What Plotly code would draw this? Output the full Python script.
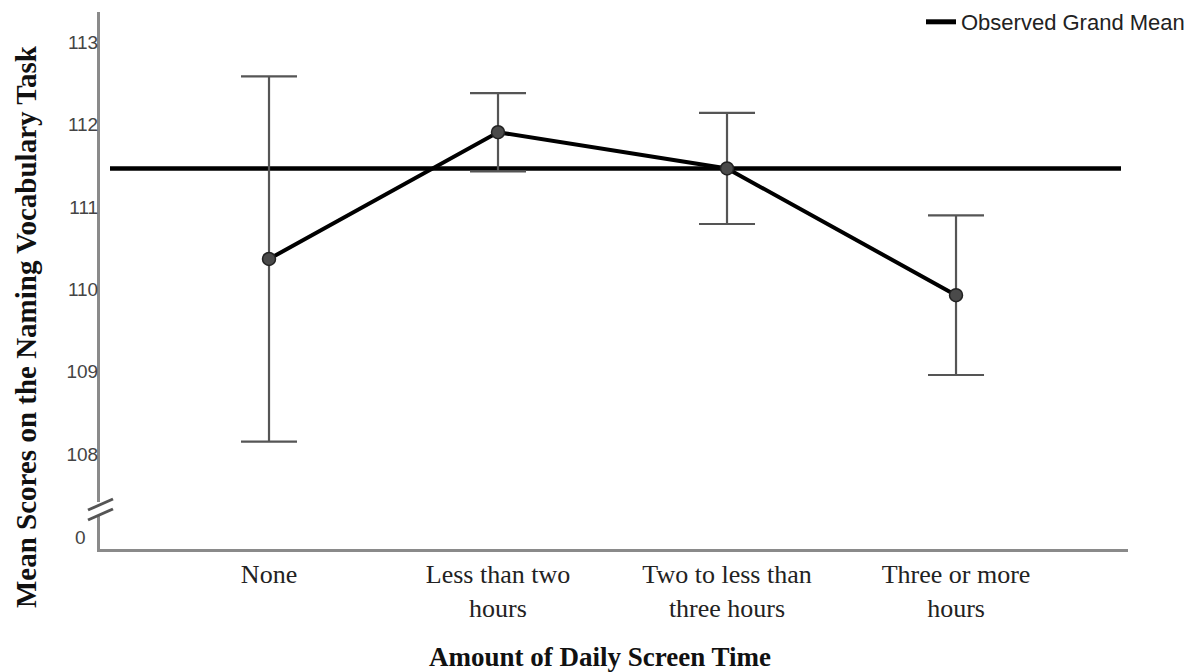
import plotly.graph_objects as go

# Group means with 95% CI half-widths
CATEGORIES = ["None", "Less than two hours", "Two to less than three hours", "Three or more hours"]
TICK_LABELS = ["None", "Less than two<br>hours", "Two to less than<br>three hours", "Three or more<br>hours"]
MEANS = [110.37, 111.91, 111.47, 109.93]
CI_HALF = [2.22, 0.475, 0.675, 0.97]
GRAND_MEAN = 111.47
Y_TICKS = [108, 109, 110, 111, 112, 113]
BROKEN_ZERO = 106.98  # position where the "0" of the broken axis is shown

W, H = 1201, 672
ML, MR, MT, MB = 100, 73, 12, 123
PW, PH = W - ML - MR, H - MT - MB


def px_x(p):
    return (p - ML) / PW


def px_y(p):
    return (H - MB - p) / PH


AXIS_GREY = "#8a8a8a"
BAR_GREY = "#555555"
SERIF = "Liberation Serif, Times New Roman, serif"
SANS = "Liberation Sans, Arial, sans-serif"

xs = list(range(len(CATEGORIES)))

fig = go.Figure()

fig.add_trace(go.Scatter(
    x=xs, y=MEANS, mode="lines+markers",
    line=dict(color="black", width=4),
    marker=dict(size=13, color="#4a4a4a", line=dict(color="#222222", width=1.5)),
    error_y=dict(type="data", array=CI_HALF, visible=True,
                 color=BAR_GREY, thickness=2.2, width=28),
    showlegend=False, hoverinfo="skip",
))

# Legend entry for the grand-mean reference line
fig.add_trace(go.Scatter(
    x=[None], y=[None], mode="lines", name="Observed Grand Mean",
    line=dict(color="black", width=5), showlegend=True,
))

shapes = [
    dict(type="line", xref="paper", yref="y",
         x0=px_x(110), x1=px_x(1121), y0=GRAND_MEAN, y1=GRAND_MEAN,
         line=dict(color="black", width=4.5), layer="below"),
    # gap in the y axis for the break
    dict(type="line", xref="paper", yref="paper",
         x0=0, x1=0, y0=px_y(516), y1=px_y(502),
         line=dict(color="white", width=6), layer="above"),
    dict(type="line", xref="paper", yref="paper",
         x0=px_x(88), x1=px_x(113), y0=px_y(510), y1=px_y(499),
         line=dict(color=BAR_GREY, width=3), layer="above"),
    dict(type="line", xref="paper", yref="paper",
         x0=px_x(88), x1=px_x(113), y0=px_y(520), y1=px_y(509),
         line=dict(color=BAR_GREY, width=3), layer="above"),
]

annotations = [
    dict(text="0", xref="paper", yref="y", x=px_x(88), y=BROKEN_ZERO,
         xanchor="right", yanchor="middle", showarrow=False,
         font=dict(family=SANS, size=19, color="#444444")),
    dict(text="<b>Amount of Daily Screen Time</b>", xref="paper", yref="paper",
         x=px_x(600), y=px_y(657), xanchor="center", yanchor="middle",
         showarrow=False, font=dict(family=SERIF, size=27, color="#111111")),
    dict(text="<b>Mean Scores on the Naming Vocabulary Task</b>", xref="paper", yref="paper",
         x=px_x(26), y=px_y(327), xanchor="center", yanchor="middle", textangle=-90,
         showarrow=False, font=dict(family=SERIF, size=29, color="#111111")),
]

fig.update_layout(
    width=W, height=H,
    margin=dict(l=ML, r=MR, t=MT, b=MB, pad=0, autoexpand=False),
    paper_bgcolor="white", plot_bgcolor="white",
    shapes=shapes, annotations=annotations,
    legend=dict(x=px_x(921), y=px_y(1), xanchor="left", yanchor="top",
                bgcolor="rgba(0,0,0,0)", font=dict(family=SANS, size=22, color="#222222")),
    xaxis=dict(
        range=[-0.738, 3.751], tickvals=xs, ticktext=TICK_LABELS,
        showgrid=False, zeroline=False, showline=True, linecolor=AXIS_GREY, linewidth=3,
        ticks="", tickfont=dict(family=SERIF, size=26, color="#222222"),
        ticklabelstandoff=0,
    ),
    yaxis=dict(
        range=[106.846, 113.371], tickvals=Y_TICKS,
        showgrid=False, zeroline=False, showline=True, linecolor=AXIS_GREY, linewidth=3,
        ticks="", tickfont=dict(family=SANS, size=19, color="#444444"),
        ticklabelstandoff=-5,
    ),
)

fig.write_html("out.html")
